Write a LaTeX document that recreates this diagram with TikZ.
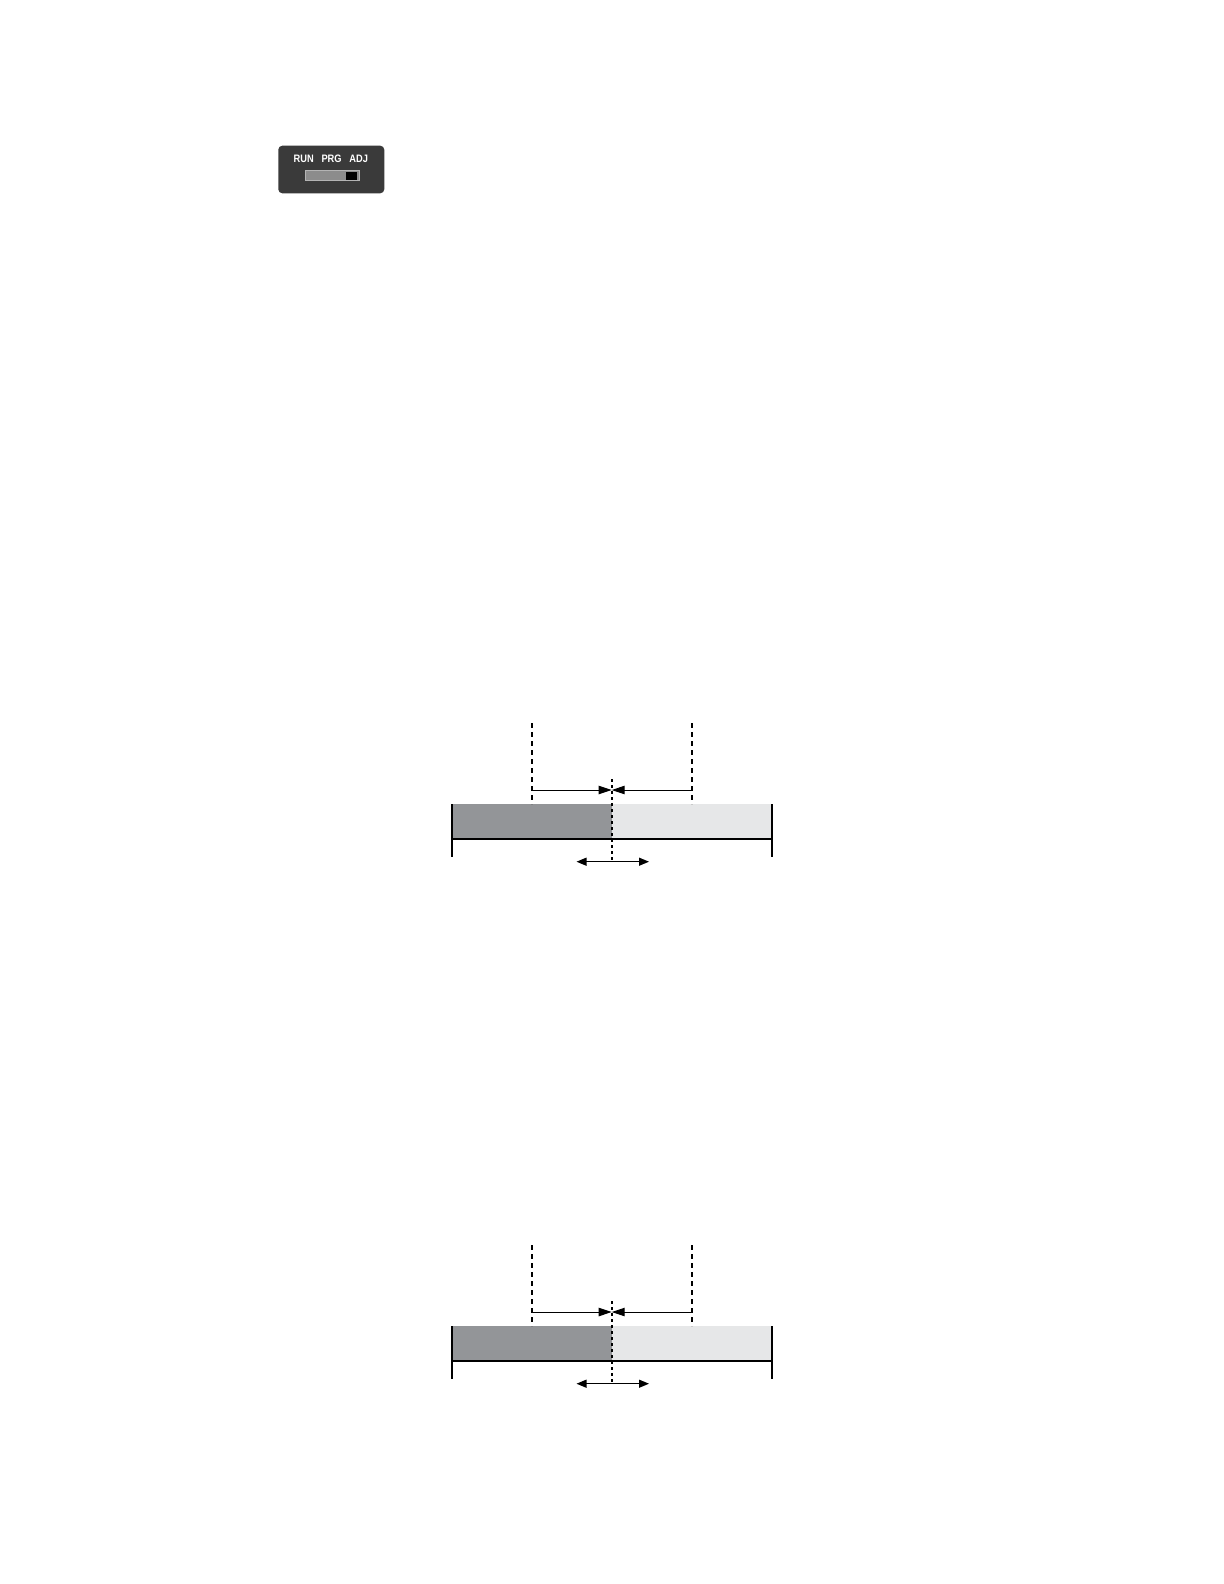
\documentclass[tikz,border=0pt]{standalone}
\usepackage{fontspec}
\setmainfont{Liberation Sans}
\newfontfamily\panelfont[FakeStretch=0.86,WordSpace=3]{Liberation Sans}
\usetikzlibrary{arrows.meta}

\definecolor{panelgray}{HTML}{3A3A3A}
\definecolor{slidergray}{HTML}{8C8C8C}
\definecolor{sliderrim}{HTML}{B4B4B4}
\definecolor{darkfill}{HTML}{939598}
\definecolor{lightfill}{HTML}{E6E7E8}

\tikzset{
  panelbox/.style={fill=panelgray, rounded corners=2pt, inner sep=0pt},
  edgeline/.style={line width=1pt},
  guideline/.style={line width=0.9pt, dash pattern=on 2.5pt off 2pt},
  centreline/.style={line width=0.9pt, dash pattern=on 1.5pt off 1.5pt},
  meetarrow/.style={line width=0.5pt, -{Triangle[length=6.5pt,width=4.2pt]}},
  movearrow/.style={line width=0.6pt, {Triangle[length=5pt,width=4pt]}-{Triangle[length=5pt,width=4pt]}},
}

\begin{document}
\begin{tikzpicture}[x=0.5pt,y=-0.5pt]
\useasboundingbox (0,0) rectangle (1224,1584);

% mode switch
\node (panel) [panelbox, minimum width=53pt, minimum height=23.8pt] at (331.3,169.5) {};
\node (mode) [anchor=base, inner sep=0pt, text=white, font=\panelfont\bfseries\fontsize{5.4}{6}\selectfont] at (330.8,162.7) {RUN PRG ADJ};
\node (slider) [fill=slidergray, draw=sliderrim, line width=0.3pt, inner sep=0pt, minimum width=27pt, minimum height=5pt] at (332.2,175.7) {};
\node (knob) [fill=black, inner sep=0pt, minimum width=5.5pt, minimum height=3.8pt] at (351.5,175.9) {};

% the two bars
\foreach \dy/\k in {0/a,522/b}{
\begin{scope}[shift={(0,\dy)}]
  \coordinate (tl\k) at (451.7,804);
  \coordinate (tm\k) at (611.7,804);
  \coordinate (tr\k) at (771.7,804);
  \coordinate (bl\k) at (451.7,839.3);
  \coordinate (bm\k) at (611.7,839.3);
  \coordinate (br\k) at (771.7,839.3);
  \coordinate (el\k) at (451.7,857);
  \coordinate (er\k) at (771.7,857);
  \coordinate (gl\k) at (531.7,723);
  \coordinate (gr\k) at (691.7,723);
  \coordinate (fl\k) at (531.7,804);
  \coordinate (fr\k) at (691.7,804);
  \coordinate (al\k) at (531.7,790);
  \coordinate (ar\k) at (691.7,790);
  \coordinate (am\k) at (611.7,790);
  \coordinate (ct\k) at (611.7,779);
  \coordinate (cb\k) at (611.7,862);
  \coordinate (ml\k) at (576.5,861.7);
  \coordinate (mr\k) at (649,861.7);

  \fill[darkfill] (tl\k) rectangle (bm\k);
  \fill[lightfill] (tm\k) rectangle (br\k);
  \draw[edgeline] (bl\k) -- (br\k);
  \draw[edgeline] (tl\k) -- (el\k);
  \draw[edgeline] (tr\k) -- (er\k);
  \draw[guideline] (gl\k) -- (fl\k);
  \draw[guideline] (gr\k) -- (fr\k);
  \draw[meetarrow] (al\k) -- (am\k);
  \draw[meetarrow] (ar\k) -- (am\k);
  \draw[centreline] (ct\k) -- (cb\k);
  \draw[movearrow] (ml\k) -- (mr\k);
\end{scope}
}
\end{tikzpicture}
\end{document}
